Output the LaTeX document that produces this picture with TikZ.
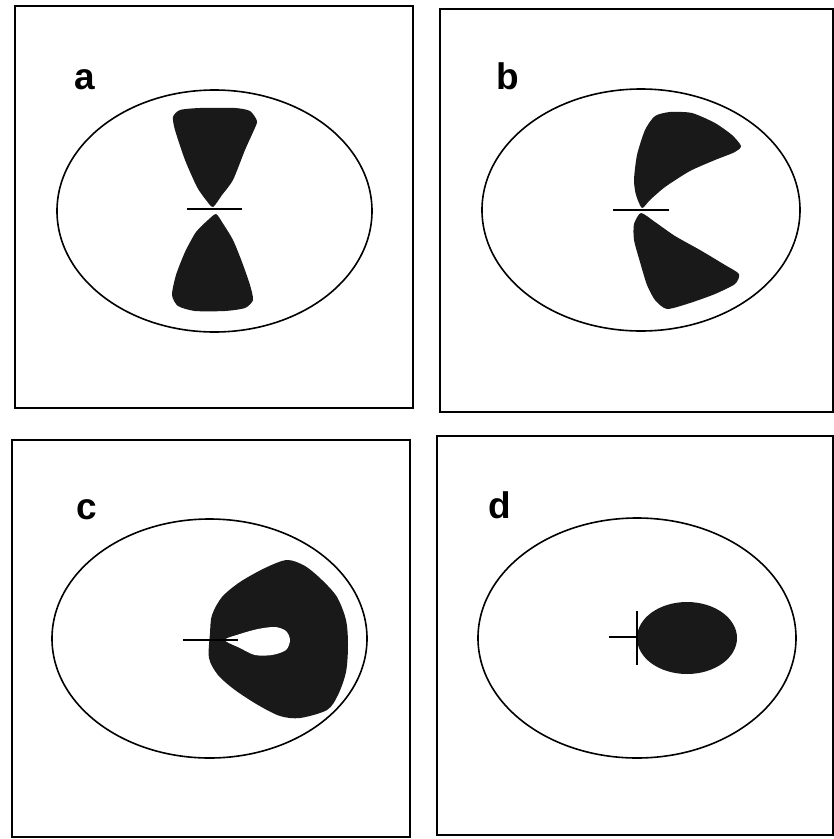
\documentclass[tikz,border=0pt]{standalone}
\usepackage{fontspec}
\newfontfamily\labfont{Liberation Sans}
\begin{document}
\begin{tikzpicture}[x=1pt,y=-1pt,
  frame/.style={draw=black,line width=1.1pt},
  outline/.style={draw=black,line width=1.6pt},
  blob/.style={fill=black!90,draw=none},
  axis/.style={draw=black,line width=1.5pt},
  panellabel/.style={font=\labfont\bfseries\fontsize{37}{42}\selectfont,inner sep=0pt}]
\useasboundingbox (0,0) rectangle (834,839);
% frames
\draw[frame] (15,6) rectangle (413,408);
\draw[frame] (440,9) rectangle (833,412);
\draw[frame] (12,440) rectangle (410,837);
\draw[frame] (437,436) rectangle (833,835);
% labels
\node[panellabel] (la) at (85,80) {a};
\node[panellabel] (lb) at (508,76) {b};
\node[panellabel] (lc) at (87,510) {c};
\node[panellabel] (ld) at (500,505) {d};
% ellipses
\draw[outline] (214.5,211) ellipse [x radius=157.5pt, y radius=121pt];
\draw[outline] (641,210) ellipse [x radius=159pt, y radius=121pt];
\draw[outline] (209.5,638.5) ellipse [x radius=157.5pt, y radius=119.5pt];
\draw[outline] (637,638) ellipse [x radius=159pt, y radius=120pt];
% panel a
\fill[blob] plot[smooth cycle,tension=0.4] coordinates {(213,207) (222,195) (233,180) (245,150) (254,130) (257,121) (250,111) (235,108) (200,108) (180,110) (173,117) (175,130) (185,160) (197,187) (206,200)};
\fill[blob] plot[smooth cycle,tension=0.4] coordinates {(216,214) (222,222) (233,240) (242,262) (250,285) (253,300) (245,308) (225,311) (195,311) (178,306) (172,295) (176,275) (185,252) (196,232) (208,220)};
\draw[axis] (187,209) -- (242,209);
% panel b
\fill[blob] plot[smooth cycle,tension=0.4] coordinates {(642,208) (636,195) (634,180) (637,155) (645,130) (655,116) (670,112) (692,113) (715,123) (732,135) (741,146) (735,152) (715,160) (690,171) (665,187) (650,200)};
\fill[blob] plot[smooth cycle,tension=0.4] coordinates {(641,213) (655,222) (675,236) (700,250) (725,265) (739,274) (735,284) (715,294) (690,303) (667,309) (655,300) (647,285) (640,262) (634,240) (634,224)};
\draw[axis] (613,210) -- (669,210);
% panel c
\fill[blob] plot[smooth cycle,tension=0.5] coordinates {(210,633) (212,615) (222,597) (240,582) (265,568) (287,560) (305,566) (322,580) (337,597) (346,620) (348,645) (346,672) (338,695) (327,710) (300,718) (280,716) (258,705) (235,690) (218,675) (209,658)};
\fill[white] plot[smooth cycle,tension=0.5] coordinates {(225,640) (240,634) (258,629) (275,627) (286,631) (290,640) (286,650) (272,655) (255,655) (240,648)};
\draw[axis] (183,640) -- (238,640);
% panel d
\fill[blob] (687,638) ellipse [x radius=50pt, y radius=36pt];
\draw[axis] (609,637) -- (637,637);
\draw[axis] (637,611) -- (637,665);
\end{tikzpicture}
\end{document}
